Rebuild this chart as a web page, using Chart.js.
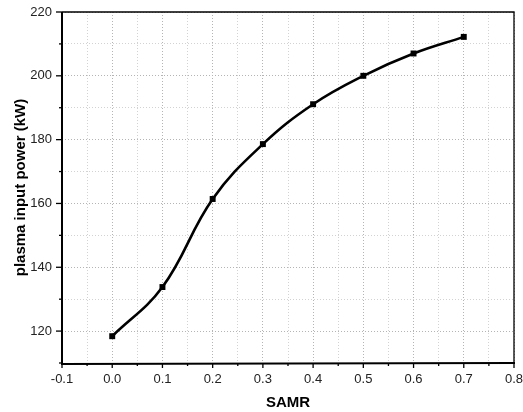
<!DOCTYPE html>
<html>
<head>
<meta charset="utf-8">
<script src="https://cdn.jsdelivr.net/npm/chart.js@4"></script>
<style>
  html, body { margin: 0; padding: 0; background: #fff; }
  #wrap { width: 523px; height: 412px; }
</style>
</head>
<body>
<div id="wrap"><canvas id="myChart"></canvas></div>
<script>
const samr = [0.0, 0.1, 0.2, 0.3, 0.4, 0.5, 0.6, 0.7];
const power = [118.4, 133.8, 161.4, 178.6, 191.1, 200.0, 207.0, 212.2];

const xMin = -0.1, xMax = 0.8, xStep = 0.05;
const yMin = 110, yMax = 220, yStep = 10;

const isMajorX = v => Math.round(v * 20) % 2 === 0;
const isMajorY = v => Math.round(v) % 20 === 0;

// frame + outward tick marks (major/minor), Origin style
const framePlugin = {
  id: 'frame',
  afterDraw(chart) {
    const { ctx, chartArea: a, scales } = chart;
    ctx.save();
    ctx.strokeStyle = '#000';
    ctx.lineWidth = 1.3;
    ctx.beginPath();
    ctx.moveTo(a.left, a.top); ctx.lineTo(a.right, a.top); ctx.lineTo(a.right, a.bottom);
    ctx.stroke();
    ctx.lineWidth = 2;
    ctx.beginPath();
    ctx.moveTo(a.left, a.top); ctx.lineTo(a.left, a.bottom + 1); ctx.lineTo(a.right + 1, a.bottom);
    ctx.stroke();
    ctx.lineWidth = 1.3;
    scales.x.ticks.forEach(t => {
      const px = scales.x.getPixelForValue(t.value);
      const len = isMajorX(t.value) ? 5 : 3;
      ctx.beginPath(); ctx.moveTo(px, a.bottom); ctx.lineTo(px, a.bottom + len); ctx.stroke();
    });
    scales.y.ticks.forEach(t => {
      const py = scales.y.getPixelForValue(t.value);
      const len = isMajorY(t.value) ? 6 : 3;
      ctx.beginPath(); ctx.moveTo(a.left, py); ctx.lineTo(a.left - len, py); ctx.stroke();
    });
    ctx.restore();
  }
};

new Chart(document.getElementById('myChart'), {
  type: 'line',
  data: {
    datasets: [{
      label: 'plasma input power',
      data: samr.map((x, i) => ({ x: x, y: power[i] })),
      borderColor: '#000',
      backgroundColor: '#000',
      borderWidth: 2.6,
      pointStyle: 'rect',
      pointRadius: 4.2,
      pointBorderWidth: 0,
      tension: 0.4,
      fill: false
    }]
  },
  options: {
    responsive: true,
    maintainAspectRatio: false,
    animation: false,
    layout: { padding: { top: 12, right: 9, left: 0, bottom: 0 } },
    plugins: {
      legend: { display: false },
      tooltip: { enabled: false }
    },
    scales: {
      x: {
        type: 'linear',
        min: xMin,
        max: xMax,
        border: { display: false, dash: [1, 2] },
        grid: {
          drawTicks: false,
          color: ctx => isMajorX(ctx.tick.value) ? '#b4b4b4' : '#d2d2d2',
          lineWidth: 1
        },
        ticks: {
          stepSize: xStep,
          autoSkip: false,
          maxRotation: 0,
          padding: 9,
          color: '#222',
          font: { family: 'Liberation Sans, Arial, sans-serif', size: 13 },
          callback: v => isMajorX(v) ? v.toFixed(1) : ''
        },
        title: {
          display: true,
          text: 'SAMR',
          color: '#000',
          font: { family: 'Liberation Sans, Arial, sans-serif', size: 15, weight: 'bold' },
          padding: { top: 6, bottom: 0 }
        },
        afterFit: s => { s.height = 49; s.paddingLeft = 0; s.paddingRight = 0; }
      },
      y: {
        type: 'linear',
        min: yMin,
        max: yMax,
        border: { display: false, dash: [1, 2] },
        grid: {
          drawTicks: false,
          color: ctx => isMajorY(ctx.tick.value) ? '#b4b4b4' : '#d2d2d2',
          lineWidth: 1
        },
        ticks: {
          stepSize: yStep,
          autoSkip: false,
          padding: 10,
          color: '#222',
          font: { family: 'Liberation Sans, Arial, sans-serif', size: 13 },
          callback: v => isMajorY(v) ? v : ''
        },
        title: {
          display: true,
          text: 'plasma input power (kW)',
          color: '#000',
          font: { family: 'Liberation Sans, Arial, sans-serif', size: 15, weight: 'bold' },
          padding: { top: 12, bottom: 4 }
        },
        afterFit: s => { s.width = 62; s.paddingTop = 0; s.paddingBottom = 0; }
      }
    }
  },
  plugins: [framePlugin]
});
</script>
</body>
</html>
